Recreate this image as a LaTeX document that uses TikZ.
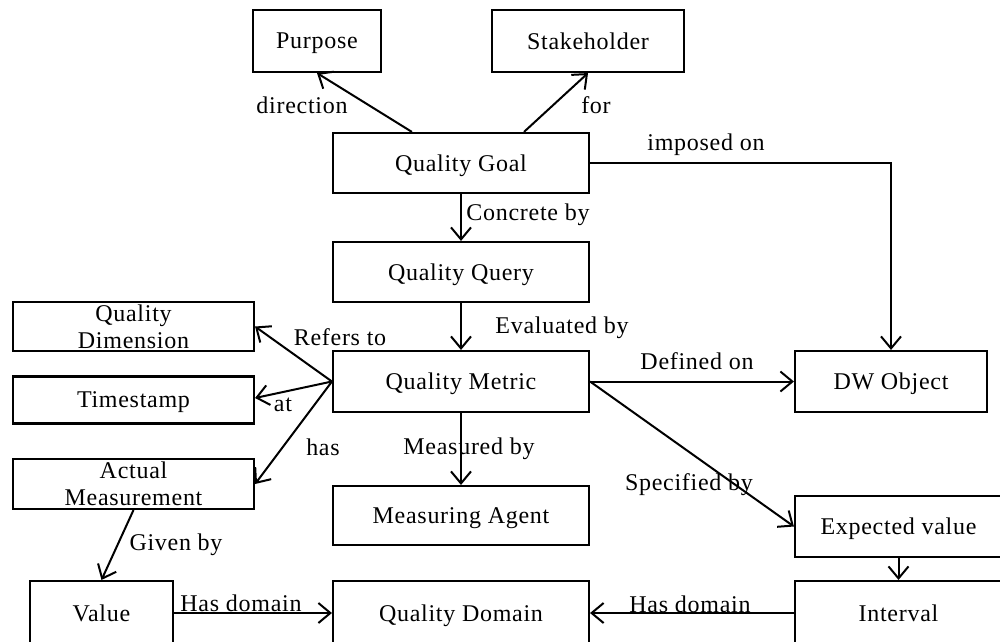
\documentclass[tikz,border=0pt]{standalone}
\usepackage{fontspec}
\setmainfont{Liberation Serif}[LetterSpace=3]
\usetikzlibrary{arrows.meta}
\begin{document}
\begin{tikzpicture}[x=1pt,y=-1pt,
  font=\fontsize{24}{27}\selectfont,
  box/.style 2 args={draw, line width=2.1pt, minimum width=#1, minimum height=#2,
                     inner sep=0pt, align=center, text depth=0pt},
  link/.style={line width=2pt,
               -{Straight Barb[length=12pt,width=20pt,line width=2pt]}},
  lab/.style={inner sep=0pt, text depth=0pt}]
\useasboundingbox (0,0) rectangle (1000,641);
\clip (0,0) rectangle (1000,641);

% concepts
\node[box={128pt}{62pt}] (purpose) at (317,41)    {Purpose};
\node[box={192pt}{62pt}] (stake)   at (588,41)    {Stakeholder};
\node[box={256pt}{60pt}] (qg)      at (461,163)   {Quality Goal};
\node[box={256pt}{60pt}] (qq)      at (461,272)   {Quality Query};
\node[box={241pt}{49pt}] (qdim)    at (133.5,326.5) {Quality\\Dimension};
\node[box={241pt}{47pt}] (ts)      at (133.5,400) {Timestamp};
\node[box={256pt}{61pt}] (qm)      at (461,381.5) {Quality Metric};
\node[box={192pt}{61pt}] (dw)      at (891,381.5) {DW Object};
\node[box={241pt}{50pt}] (am)      at (133.5,484) {Actual\\Measurement};
\node[box={256pt}{59pt}] (ma)      at (461,515.5) {Measuring Agent};
\node[box={207pt}{61pt}] (ev)      at (898.5,526.5) {Expected value};
\node[box={143pt}{64pt}] (val)     at (101.5,613) {Value};
\node[box={256pt}{64pt}] (qd)      at (461,613)   {Quality Domain};
\node[box={207pt}{64pt}] (intv)    at (898.5,613) {Interval};

% relations
\draw[link] ([xshift=80pt]qg.north west) -- (purpose.south);
\draw[link] ([xshift=192pt]qg.north west) -- (stake.south);
\draw[link] (qg.east) -| (dw.north);
\draw[link] (qg.south) -- (qq.north);
\draw[link] (qq.south) -- (qm.north);
\draw[link] (qm.west) -- (qdim.east);
\draw[link] (qm.west) -- ([yshift=2pt]ts.east);
\draw[link] (qm.west) -- (am.east);
\draw[link] (qm.south) -- (ma.north);
\draw[link] (qm.east) -- (dw.west);
\draw[link] (qm.east) -- (ev.west);
\draw[link] (ev.south) -- (intv.north);
\draw[link] (intv.west) -- (qd.east);
\draw[link] (val.east) -- (qd.west);
\draw[link] (am.south) -- (val.north);

% relation names
\node[lab] (ldir)  at (302,105) {direction};
\node[lab] (lfor)  at (596,105) {for};
\node[lab] (limp)  at (706,142) {imposed on};
\node[lab] (lcon)  at (528,212) {Concrete by};
\node[lab] (leval) at (562,325) {Evaluated by};
\node[lab] (lref)  at (340,337) {Refers to};
\node[lab] (lat)   at (283,405) {at};
\node[lab] (lhas)  at (323,447) {has};
\node[lab] (lmeas) at (469,446) {Measured by};
\node[lab] (ldef)  at (697,361) {Defined on};
\node[lab] (lspec) at (689,482) {Specified by};
\node[lab] (lgiv)  at (176,542) {Given by};
\node[lab] (lhd1)  at (241,603) {Has domain};
\node[lab] (lhd2)  at (690,604) {Has domain};
\end{tikzpicture}
\end{document}
